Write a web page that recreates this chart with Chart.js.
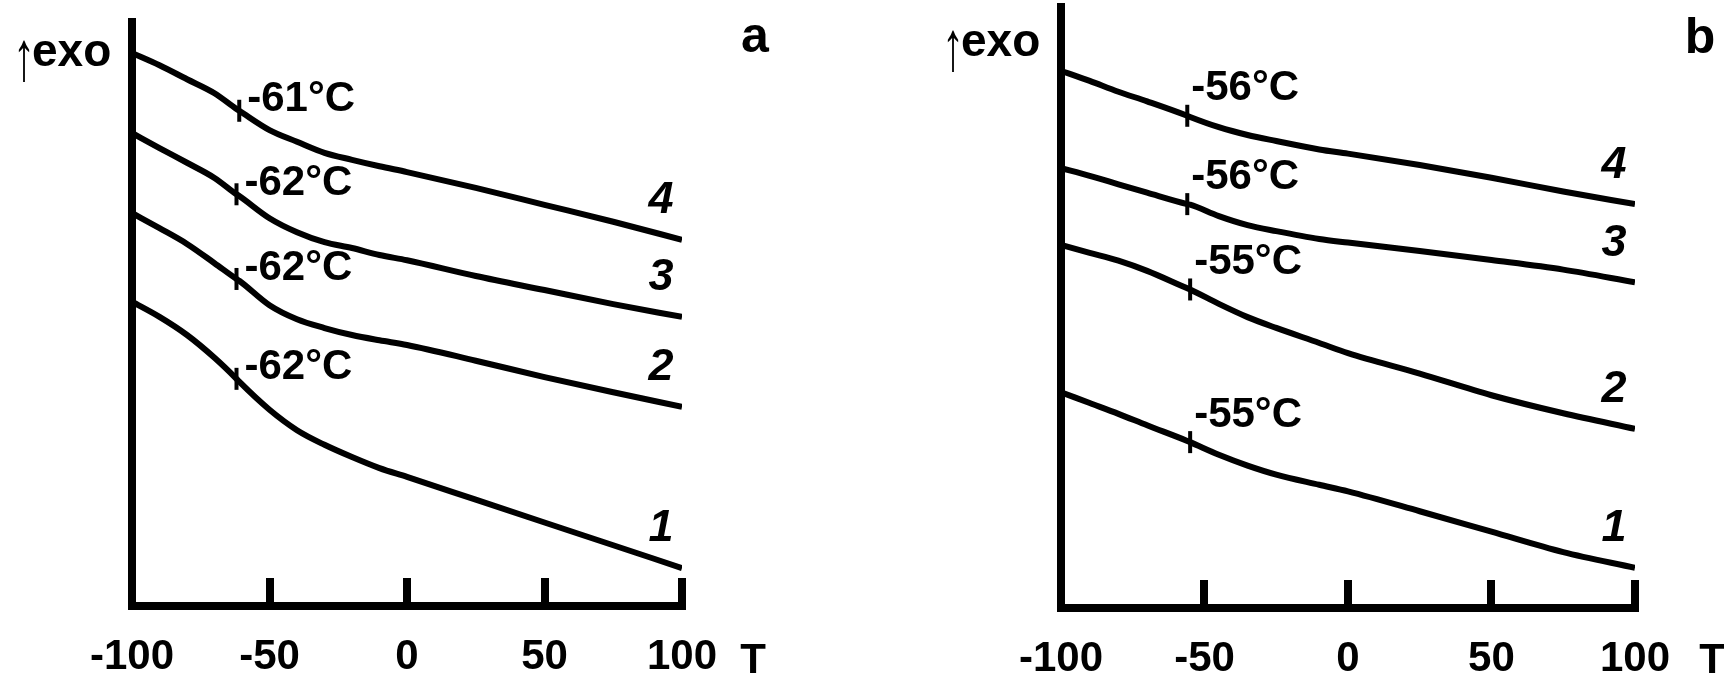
<!DOCTYPE html>
<html>
<head>
<meta charset="utf-8">
<script src="https://cdn.jsdelivr.net/npm/chart.js@4.4.1/dist/chart.umd.min.js"></script>
<style>
  html, body { margin: 0; padding: 0; background: #fff; }
  .panel { position: absolute; top: 0; width: 862px; height: 680px; }
  #wrapA { left: 0; }
  #wrapB { left: 862px; }
</style>
</head>
<body>
<div class="panel" id="wrapA"><canvas id="chartA"></canvas></div>
<div class="panel" id="wrapB"><canvas id="chartB"></canvas></div>
<script>
// temperature grid, °C
const tempsA = [-100, -90, -80, -70, -62, -61, -50, -40, -30, -20, -10, 0, 25, 50, 75, 100];
const tempsB = [-100, -90, -80, -70, -56, -55, -45, -35, -25, -10, 0, 25, 50, 75, 100];

// heat flow, arbitrary units (exo up), curves 1..4
const a1 = [52.1, 49.5, 46.4, 42.5, 38.9, 38.4, 33.6, 30.1, 27.6, 25.5, 23.6, 22.1, 18.2, 14.3, 10.4, 6.5];
const a2 = [67.3, 64.7, 62.0, 58.7, 56.0, 55.7, 51.5, 49.1, 47.6, 46.4, 45.5, 44.7, 42.0, 39.2, 36.6, 34.1];
const a3 = [81.0, 78.4, 75.9, 73.3, 70.5, 70.2, 66.4, 64.0, 62.3, 61.3, 60.1, 59.2, 56.5, 54.1, 51.7, 49.5];
const a4 = [94.7, 92.6, 90.2, 87.8, 85.1, 84.8, 81.5, 79.5, 77.6, 76.4, 75.3, 74.3, 71.6, 68.7, 65.8, 62.7];

const b1 = [35.9, 34.1, 32.3, 30.4, 27.8, 27.6, 25.5, 23.7, 22.2, 20.5, 19.4, 16.1, 12.7, 9.3, 6.7];
const b2 = [60.4, 59.1, 57.8, 56.1, 53.2, 53.0, 50.6, 48.4, 46.6, 44.1, 42.4, 39.0, 35.4, 32.4, 29.8];
const b3 = [73.2, 71.9, 70.5, 69.1, 67.2, 67.1, 65.2, 63.7, 62.7, 61.4, 60.8, 59.4, 57.9, 56.3, 54.2];
const b4 = [89.4, 87.7, 85.9, 84.3, 81.9, 81.7, 80.0, 78.7, 77.7, 76.3, 75.6, 73.7, 71.6, 69.3, 67.2];

// glass transition temperatures of curves 1..4
const tgA = [-62, -62, -62, -61];
const tgB = [-55, -55, -56, -56];

const curveNames = ['1', '2', '3', '4'];
const xTicks = [-100, -50, 0, 50, 100];

const textFont = "'Liberation Sans', Arial, sans-serif";

const makeSets = (temps, series, tgs) => series.map((ys, i) => ({
    label: curveNames[i],
    data: temps.map((t, k) => ({ x: t, y: ys[k] })),
    borderColor: '#000',
    borderWidth: 6,
    cubicInterpolationMode: 'monotone',
    pointStyle: 'line',
    pointRotation: 90,
    pointRadius: temps.map(t => t === tgs[i] ? 11 : 0),
    pointBorderWidth: 4,
    pointBorderColor: '#000',
    tgIndex: temps.indexOf(tgs[i]),
    tgLabel: `${tgs[i]}°C`
}));

// Tg labels, curve numbers and the free texts of each panel
const dscLabels = {
    id: 'dscLabels',
    afterDatasetsDraw(chart, args, opts) {
        const ctx = chart.ctx;
        const area = chart.chartArea;
        ctx.save();
        ctx.fillStyle = '#000';
        chart.data.datasets.forEach((ds, i) => {
            const pts = chart.getDatasetMeta(i).data;
            const p = pts[ds.tgIndex];
            ctx.font = `bold 42px ${textFont}`;
            ctx.textAlign = 'left';
            ctx.textBaseline = 'middle';
            ctx.fillText(ds.tgLabel, p.x + opts.tgDx, p.y + opts.tgDy);
            const end = pts[pts.length - 1];
            ctx.font = `italic bold 45px ${textFont}`;
            ctx.textAlign = 'center';
            ctx.fillText(ds.label, end.x - 21, end.y - 39);
        });
        ctx.textBaseline = 'alphabetic';
        // ↑exo, arrow stretched to the tall thin one of the original
        ctx.save();
        ctx.translate(area.left - 108, opts.arrowY);
        ctx.scale(1, 1.6);
        ctx.textAlign = 'center';
        ctx.font = `44px ${textFont}`;
        ctx.fillText('↑', 0, 0);
        ctx.restore();
        ctx.textAlign = 'left';
        ctx.font = `bold 46px ${textFont}`;
        ctx.fillText('exo', area.left - 100, opts.exoY);
        // panel letter
        ctx.textAlign = 'center';
        ctx.font = `bold 50px ${textFont}`;
        ctx.fillText(opts.letter, opts.letterX, opts.letterY);
        // axis name
        ctx.font = `bold 42px ${textFont}`;
        ctx.fillText('T', area.right + opts.tDx, opts.tY);
        ctx.restore();
    }
};

const panelOptions = (pad, axisH, labels) => ({
    responsive: true,
    maintainAspectRatio: false,
    animation: false,
    events: [],
    layout: { padding: pad },
    plugins: {
        legend: { display: false },
        tooltip: { enabled: false },
        dscLabels: labels
    },
    scales: {
        x: {
            type: 'linear',
            min: -100,
            max: 100,
            afterBuildTicks: s => { s.ticks = xTicks.map(v => ({ value: v })); },
            afterFit: s => { s.height = axisH; },
            border: { display: true, width: 8, color: '#000' },
            grid: { drawOnChartArea: false, drawTicks: true, tickLength: -28, tickWidth: 8, tickColor: '#000', lineWidth: 8 },
            ticks: {
                color: '#000',
                padding: 54,
                autoSkip: false,
                maxRotation: 0,
                font: { family: textFont, size: 42, weight: 'bold' }
            }
        },
        y: {
            min: 0,
            max: 100,
            afterFit: s => { s.width = 0; },
            border: { display: true, width: 8, color: '#000' },
            grid: { display: false, lineWidth: 8 },
            ticks: { display: false }
        }
    }
});

new Chart(document.getElementById('chartA'), {
    type: 'line',
    data: { datasets: makeSets(tempsA, [a1, a2, a3, a4], tgA) },
    options: panelOptions({ left: 132, right: 180, top: 22, bottom: 0 }, 74,
        { tgDx: 8, tgDy: -11, arrowY: 80, exoY: 66, letter: 'a', letterX: 755, letterY: 52, tDx: 71, tY: 673 }),
    plugins: [dscLabels]
});

new Chart(document.getElementById('chartB'), {
    type: 'line',
    data: { datasets: makeSets(tempsB, [b1, b2, b3, b4], tgB) },
    options: panelOptions({ left: 199, right: 89, top: 7, bottom: 0 }, 72,
        { tgDx: 4, tgDy: -27, arrowY: 70, exoY: 56, letter: 'b', letterX: 838, letterY: 53, tDx: 77, tY: 673 }),
    plugins: [dscLabels]
});
</script>
</body>
</html>
